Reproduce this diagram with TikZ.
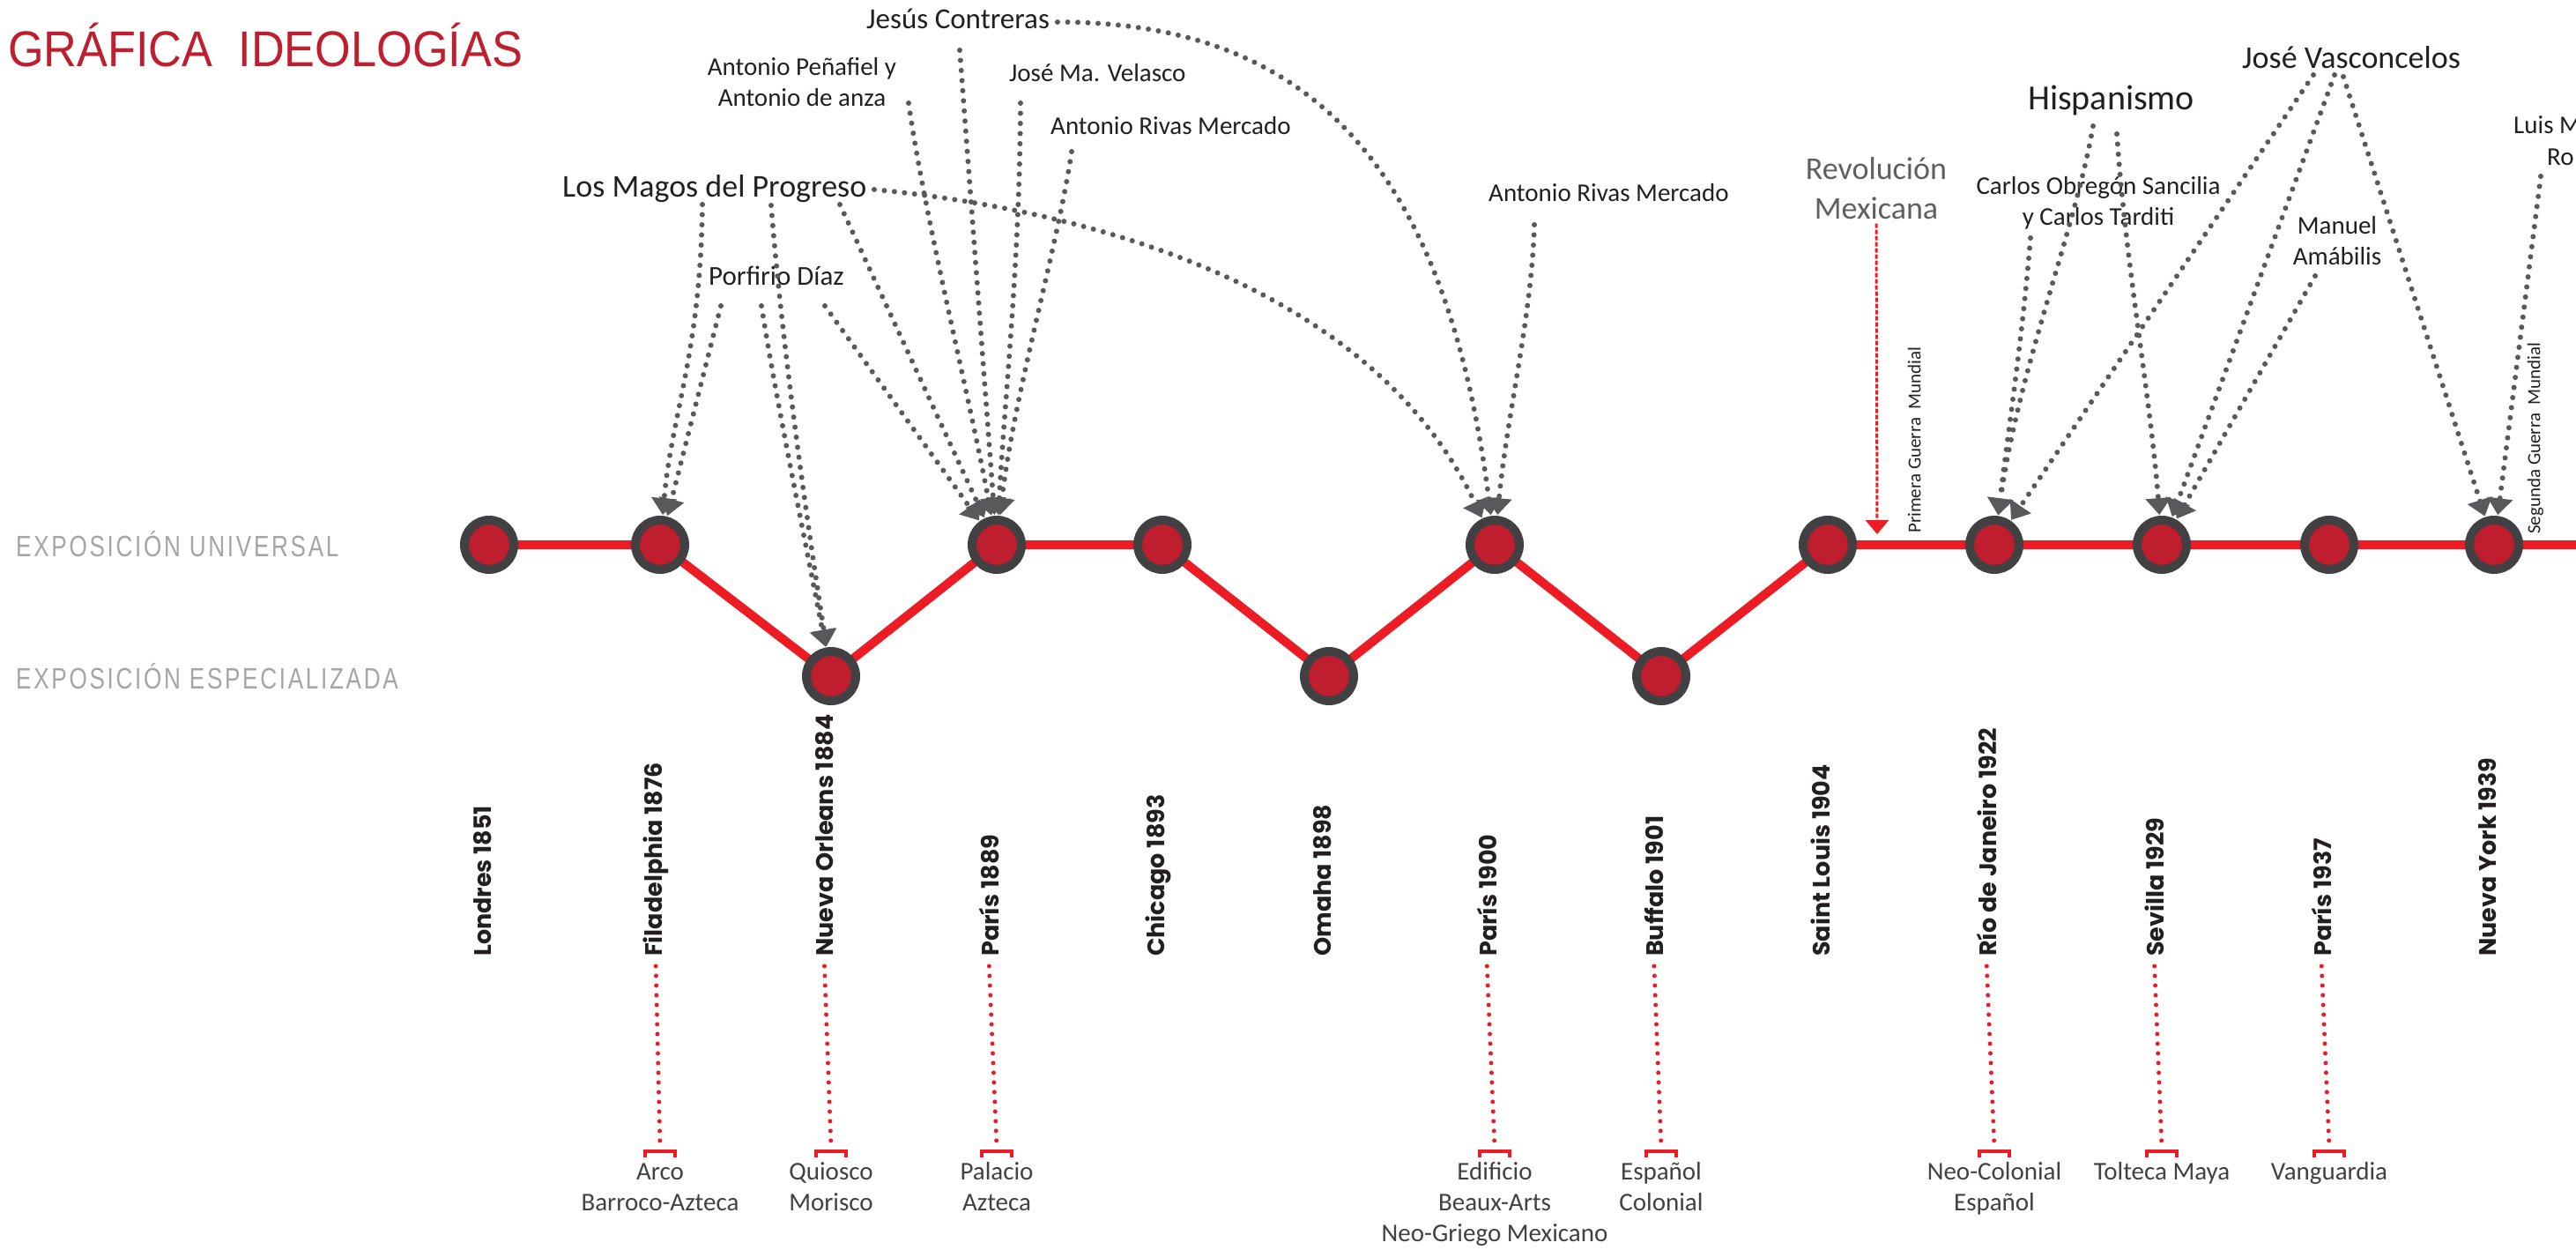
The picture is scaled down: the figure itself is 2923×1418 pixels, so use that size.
\documentclass[tikz,border=0pt]{standalone}
\usepackage{fontspec}
\setmainfont{Carlito}
\newfontfamily\popf{Poppins}
\newfontfamily\arialf{Liberation Sans}
\newfontfamily\expof{Liberation Sans}[FakeStretch=0.78,LetterSpace=8]
\usetikzlibrary{arrows.meta,backgrounds}
\definecolor{lred}{RGB}{237,28,36}
\definecolor{dred}{RGB}{190,30,45}
\definecolor{ring}{RGB}{65,64,66}
\definecolor{cgray}{RGB}{88,89,91}
\definecolor{tblack}{RGB}{35,31,32}
\definecolor{lgray}{RGB}{165,165,165}
\definecolor{rgray}{RGB}{95,95,97}
\newcommand{\mystrut}{\rule{0pt}{26pt}}
\newcommand{\mystrutb}{\rule{0pt}{32pt}}
\tikzset{
 conn/.style={draw=cgray, line width=6pt, line cap=round, dash pattern=on 0pt off 11.5pt, -{Triangle[length=19pt,width=28pt]}, shorten >=1pt},
 expo/.style={circle, fill=dred, draw=ring, line width=10pt, minimum size=56pt, inner sep=0pt},
 redline/.style={draw=lred, line width=10pt},
 city/.style={rotate=90, anchor=mid west, inner sep=0pt, font=\popf\bfseries\fontsize{27}{30}\selectfont, text=tblack},
 lbl/.style={inner sep=0pt, anchor=base west, text=tblack, font=\fontsize{29}{35}\selectfont},
 ml/.style={inner sep=0pt, anchor=north, align=center, text=tblack, font=\fontsize{29}{35}\selectfont},
 sty/.style={ml, text=ring},
 rdot/.style={draw=lred, line width=5pt, line cap=round, dash pattern=on 0pt off 11pt},
 rbrk/.style={draw=lred, line width=3.5pt},
 revarrow/.style={draw=lred, line width=3pt, dash pattern=on 5pt off 2pt, -{Triangle[length=16pt,width=26pt]}},
 war/.style={rotate=90, anchor=mid west, inner sep=0pt, font=\fontsize{21}{24}\selectfont, text=tblack},
 expotext/.style={inner sep=0pt, anchor=base west, text=lgray, font=\expof\fontsize{33.5}{36}\selectfont},
}
\begin{document}
\begin{tikzpicture}[x=1pt,y=-1pt]
\useasboundingbox (0,0) rectangle (2923,1418);
% title and row labels
\node[inner sep=0pt, anchor=base west, text=dred, font=\arialf\fontsize{57}{60}\selectfont] (title) at (9,76) {\scalebox{0.917}[1]{GRÁFICA\ \ IDEOLOGÍAS}};
\node[expotext] (eu) at (18,631) {EXPOSICIÓN UNIVERSAL};
\node[expotext] (ee) at (18,781) {EXPOSICIÓN ESPECIALIZADA};
% exposition nodes
\node[expo] (n1) at (555,618) {};
\node[expo] (n2) at (749,618) {};
\node[expo] (n3) at (943,767) {};
\node[expo] (n4) at (1131,618) {};
\node[expo] (n5) at (1319,618) {};
\node[expo] (n6) at (1508,767) {};
\node[expo] (n7) at (1696,618) {};
\node[expo] (n8) at (1885,767) {};
\node[expo] (n9) at (2074,618) {};
\node[expo] (n10) at (2263,618) {};
\node[expo] (n11) at (2453,618) {};
\node[expo] (n12) at (2643,618) {};
\node[expo] (n13) at (2830,618) {};
\coordinate (rend) at (2923,618);
\begin{scope}[on background layer]
\draw[redline] (n1.center) -- (n2.center) -- (n3.center) -- (n4.center) -- (n5.center) -- (n6.center) -- (n7.center) -- (n8.center) -- (n9.center) -- (n10.center) -- (n11.center) -- (n12.center) -- (n13.center) -- (rend);
\end{scope}
% city labels
\node[city] (c1) at (555,1085) {Londres 1851};
\node[city] (c2) at (749,1085) {Filadelphia 1876};
\node[city] (c3) at (943,1085) {Nueva Orleans 1884};
\node[city] (c4) at (1131,1085) {París 1889};
\node[city] (c5) at (1319,1085) {Chicago 1893};
\node[city] (c6) at (1508,1085) {Omaha 1898};
\node[city] (c7) at (1696,1085) {París 1900};
\node[city] (c8) at (1885,1085) {Buffalo 1901};
\node[city] (c9) at (2074,1085) {Saint Louis 1904};
\node[city] (c10) at (2263,1085) {Río de Janeiro 1922};
\node[city] (c11) at (2453,1085) {Sevilla 1929};
\node[city] (c12) at (2643,1085) {París 1937};
\node[city] (c13) at (2830,1085) {Nueva York 1939};
% style labels
\node[sty] (s2) at (749,1312) {\mystrut Arco\\Barroco-Azteca};
\node[sty] (s3) at (943,1312) {\mystrut Quiosco\\Morisco};
\node[sty] (s4) at (1131,1312) {\mystrut Palacio\\Azteca};
\node[sty] (s7) at (1696,1312) {\mystrut Edificio\\Beaux-Arts\\Neo-Griego Mexicano};
\node[sty] (s8) at (1885,1312) {\mystrut Español\\Colonial};
\node[sty] (s10) at (2263,1312) {\mystrut Neo-Colonial\\Español};
\node[sty] (s11) at (2453,1312) {\mystrut Tolteca Maya};
\node[sty] (s12) at (2643,1312) {\mystrut Vanguardia};
\foreach \i in {2,3,4,7,8,10,11,12} {
  \draw[rdot] ([yshift=-11pt]c\i.west) -- ([yshift=10pt]s\i.north);
  \draw[rbrk] ([xshift=-17pt,yshift=-1pt]s\i.north) -- ++(0,-7) -- ++(34,0) -- ++(0,7);
}
% people / idea labels
\node[lbl, font=\fontsize{33}{36}\selectfont] (jesus) at (983,33) {Jesús Contreras};
\node[ml] (pena) at (910,59) {\mystrut Antonio Peñafiel y\\Antonio de anza};
\node[lbl] (velasco) at (1145,93) {José Ma. Velasco};
\node[lbl] (rivasa) at (1192,153) {Antonio Rivas Mercado};
\node[lbl, font=\fontsize{36}{40}\selectfont] (magos) at (638,223) {Los Magos del Progreso};
\node[lbl, font=\fontsize{31}{35}\selectfont] (porf) at (804,323) {Porfirio Díaz};
\node[lbl] (rivasb) at (1689,228) {Antonio Rivas Mercado};
\node[ml, text=rgray, font=\fontsize{36}{45}\selectfont] (revol) at (2129,171) {\mystrutb Revolución\\Mexicana};
\node[lbl, font=\fontsize{40}{44}\selectfont] (hisp) at (2301,125) {Hispanismo};
\node[lbl, font=\fontsize{36}{40}\selectfont] (vasc) at (2544,78) {José Vasconcelos};
\node[ml] (carlos) at (2381,194) {\mystrut Carlos Obregón Sancilia\\y Carlos Tarditi};
\node[ml] (manuel) at (2652,239) {\mystrut Manuel\\Amábilis};
\node[lbl] (luisa) at (2852,152) {Luis M};
\node[lbl] (luisb) at (2890,187) {Ro};
\node[war] (wa) at (2177,605) {Primera Guerra\ \ Mundial};
\node[war] (wb) at (2880,606) {Segunda Guerra\ \ Mundial};
% connector start points
\coordinate (sM1) at (992,215);
\coordinate (sM2) at (797,232);
\coordinate (sM3) at (875,233);
\coordinate (sM4) at (953,232);
\coordinate (sP1) at (818,347);
\coordinate (sP2) at (864,347);
\coordinate (sP3) at (936,347);
\coordinate (sA1) at (1031,117);
\coordinate (sJ1) at (1089,57);
\coordinate (sJ2) at (1200,25);
\coordinate (sV1) at (1158,117);
\coordinate (sR1) at (1216,172);
\coordinate (sR2) at (1741,255);
\coordinate (sH1) at (2375,143);
\coordinate (sH2) at (2402,152);
\coordinate (sC1) at (2304,270);
\coordinate (sJV1) at (2625,85);
\coordinate (sJV2) at (2649,85);
\coordinate (sJV3) at (2659,87);
\coordinate (sMA) at (2627,313);
\coordinate (sLU) at (2883,200);
\coordinate (wwone) at (2130,606);
% Filadelphia
\draw[conn] (sM2) .. controls (795,400) and (762,470) .. (n2);
\draw[conn] (sP1) -- (n2);
% Nueva Orleans
\draw[conn] (sM3) .. controls (888,400) and (920,620) .. (n3);
\draw[conn] (sP2) .. controls (880,450) and (915,620) .. (n3);
% Paris 1889
\draw[conn] (sA1) .. controls (1050,250) and (1100,450) .. (n4);
\draw[conn] (sJ1) -- (n4);
\draw[conn] (sV1) .. controls (1157,300) and (1140,450) .. (n4);
\draw[conn] (sR1) .. controls (1200,280) and (1150,450) .. (n4);
\draw[conn] (sM4) -- (n4);
\draw[conn] (sP3) -- (n4);
% Paris 1900
\draw[conn] (sJ2) .. controls (1480,25) and (1640,180) .. (n7);
\draw[conn] (sM1) .. controls (1250,240) and (1560,330) .. (n7);
\draw[conn] (sR2) .. controls (1738,360) and (1710,470) .. (n7);
% Revolucion
\draw[revarrow] (revol.south) ++(0,5) -- (wwone);
% Rio
\draw[conn] (sH1) .. controls (2355,260) and (2290,420) .. (n10);
\draw[conn] (sC1) .. controls (2295,380) and (2280,480) .. (n10);
\draw[conn] (sJV1) -- (n10);
% Sevilla
\draw[conn] (sJV2) -- (n11);
\draw[conn] (sH2) .. controls (2412,300) and (2440,450) .. (n11);
\draw[conn] (sMA) -- (n11);
% Nueva York
\draw[conn] (sJV3) -- (n13);
\draw[conn] (sLU) -- (n13);
\end{tikzpicture}
\end{document}
